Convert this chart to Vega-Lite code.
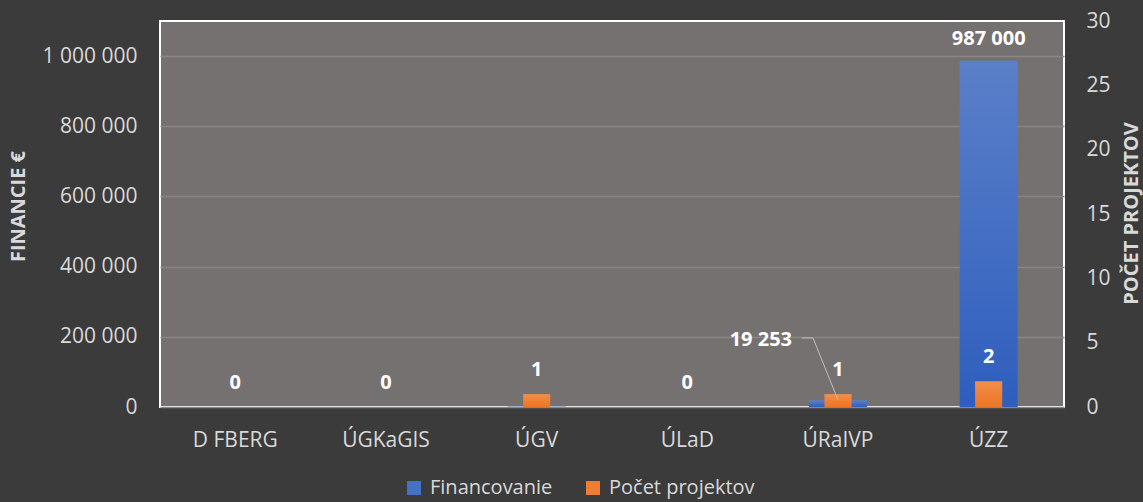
{
  "$schema": "https://vega.github.io/schema/vega-lite/v6.json",
  "width": 904,
  "height": 386,
  "autosize": {"type": "none"},
  "padding": {"left": 160, "top": 21, "right": 79, "bottom": 95},
  "background": "#3b3b3b",
  "config": {
    "locale": {"number": {"decimal": ",", "thousands": " ", "grouping": [3], "currency": ["", " €"]}},
    "view": {"fill": "#757170", "stroke": "#ffffff", "strokeWidth": 2},
    "font": "Open Sans",
    "axis": {
      "labelFont": "Open Sans", "labelFontSize": 21, "labelColor": "#d9d9d9",
      "titleFont": "Open Sans", "titleFontSize": 20, "titleFontWeight": "bold", "titleColor": "#d9d9d9",
      "ticks": false, "domain": false
    },
    "legend": {
      "labelFont": "Open Sans", "labelFontSize": 20, "labelColor": "#d9d9d9",
      "symbolType": "square", "symbolSize": 196, "symbolStrokeWidth": 0
    }
  },
  "datasets": {
    "main": [
      {"cat": "D FBERG", "fin": 0, "count": 0},
      {"cat": "ÚGKaGIS", "fin": 0, "count": 0},
      {"cat": "ÚGV", "fin": 1500, "count": 1},
      {"cat": "ÚLaD", "fin": 0, "count": 0},
      {"cat": "ÚRaIVP", "fin": 19253, "count": 1},
      {"cat": "ÚZZ", "fin": 987000, "count": 2}
    ],
    "leader": [
      {"px": 4.26, "py": 196600, "order": 1},
      {"px": 4.334, "py": 196600, "order": 2},
      {"px": 4.5, "py": 20000, "order": 3}
    ],
    "leaderLabel": [
      {"px": 4.195, "py": 190900, "value": 19253}
    ]
  },
  "layer": [
    {
      "data": {"name": "main"},
      "encoding": {
        "x": {"field": "cat", "type": "nominal", "sort": null,
          "scale": {"paddingInner": 0, "paddingOuter": 0},
          "axis": {"title": null, "labelAngle": 0, "labelPadding": 22, "grid": false}},
        "y": {"field": "fin", "type": "quantitative",
          "scale": {"domain": [0, 1100000], "nice": false, "zero": true},
          "axis": {"title": "FINANCIE €", "values": [0, 200000, 400000, 600000, 800000, 1000000],
            "format": ",d", "grid": true, "gridColor": "#8a8685", "gridWidth": 1.5, "labelPadding": 23,
            "titleAngle": 270, "titleX": -142, "titleY": 185, "titleAlign": "center", "titleBaseline": "middle"}}
      },
      "layer": [
        {
          "mark": {"type": "bar", "width": {"band": 0.385},
            "color": {"gradient": "linear", "x1": 0, "y1": 0, "x2": 0, "y2": 1,
              "stops": [{"offset": 0, "color": "#5b80c9"}, {"offset": 1, "color": "#2e5ebe"}]}}
        },
        {
          "mark": {"type": "square", "size": 0, "opacity": 1},
          "encoding": {
            "color": {"datum": "Financovanie", "type": "nominal",
              "scale": {"domain": ["Financovanie", "Počet projektov"], "range": ["#4472c4", "#ed7d31"]},
              "legend": {"title": null, "orient": "none", "direction": "horizontal",
                "legendX": 244, "legendY": 457, "columnPadding": 30, "labelOffset": 6}}
          }
        },
        {
          "transform": [{"filter": "datum.fin > 100000"}],
          "mark": {"type": "text", "dy": -22, "fontWeight": "bold", "fontSize": 20, "color": "#ffffff", "baseline": "middle", "font": "Open Sans"},
          "encoding": {"text": {"field": "fin", "type": "quantitative", "format": ",d"}}
        }
      ]
    },
    {
      "data": {"name": "main"},
      "encoding": {
        "x": {"field": "cat", "type": "nominal", "sort": null,
          "scale": {"paddingInner": 0, "paddingOuter": 0}, "axis": null},
        "y": {"field": "count", "type": "quantitative",
          "scale": {"domain": [0, 30], "nice": false},
          "axis": {"orient": "right", "title": "POČET PROJEKTOV", "values": [0, 5, 10, 15, 20, 25, 30],
            "grid": false, "labelPadding": 22,
            "titleAngle": 270, "titleX": 67, "titleY": 192, "titleAlign": "center", "titleBaseline": "middle"}}
      },
      "layer": [
        {
          "mark": {"type": "bar", "width": {"band": 0.18},
            "color": {"gradient": "linear", "x1": 0, "y1": 0, "x2": 0, "y2": 1,
              "stops": [{"offset": 0, "color": "#f28f4a"}, {"offset": 1, "color": "#ec7425"}]}}
        },
        {
          "mark": {"type": "square", "size": 0, "opacity": 1},
          "encoding": {"color": {"datum": "Počet projektov", "type": "nominal"}}
        },
        {
          "mark": {"type": "text", "dy": -24, "fontWeight": "bold", "fontSize": 20, "color": "#ffffff", "baseline": "middle", "font": "Open Sans"},
          "encoding": {"text": {"field": "count", "type": "quantitative"}}
        }
      ]
    },
    {
      "data": {"name": "leader"},
      "mark": {"type": "line", "color": "#bfbfbf", "strokeWidth": 1},
      "encoding": {
        "x": {"field": "px", "type": "quantitative", "scale": {"domain": [0, 6], "nice": false, "zero": true}, "axis": null},
        "y": {"field": "py", "type": "quantitative", "scale": {"domain": [0, 1100000], "nice": false}, "axis": null},
        "order": {"field": "order"}
      }
    },
    {
      "data": {"name": "leaderLabel"},
      "mark": {"type": "text", "align": "right", "baseline": "middle", "fontWeight": "bold", "fontSize": 20, "color": "#ffffff", "font": "Open Sans"},
      "encoding": {
        "x": {"field": "px", "type": "quantitative", "scale": {"domain": [0, 6], "nice": false, "zero": true}, "axis": null},
        "y": {"field": "py", "type": "quantitative", "scale": {"domain": [0, 1100000], "nice": false}, "axis": null},
        "text": {"field": "value", "type": "quantitative", "format": ",d"}
      }
    }
  ],
  "resolve": {"scale": {"x": "independent", "y": "independent"}}
}
